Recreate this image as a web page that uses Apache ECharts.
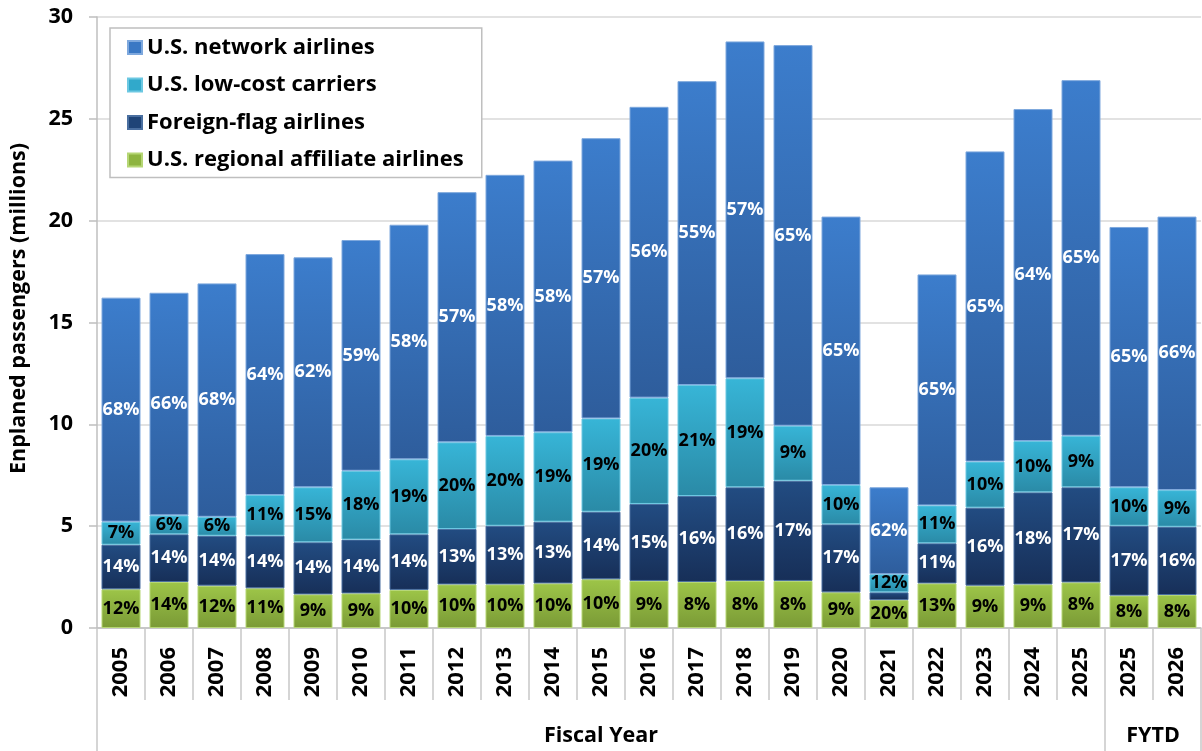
<!DOCTYPE html>
<html><head><meta charset="utf-8">
<script src="https://cdn.jsdelivr.net/npm/echarts@6/dist/echarts.min.js"></script>
<style>html,body{margin:0;padding:0;background:#fff}#c{width:1202px;height:751px}</style>
</head><body><div id="c"></div>
<script>
const categories = ['2005','2006','2007','2008','2009','2010','2011','2012','2013','2014','2015','2016','2017','2018','2019','2020','2021','2022','2023','2024','2025','2025','2026'];
const groupLabels = ['Fiscal Year', 'FYTD'];
const yTicks = [0, 5, 10, 15, 20, 25, 30];

// values in millions of enplaned passengers
const regional = [1.90,2.26,2.08,1.95,1.65,1.70,1.87,2.14,2.14,2.19,2.39,2.31,2.26,2.31,2.31,1.75,1.37,2.19,2.08,2.14,2.24,1.59,1.62];
const foreign  = [2.19,2.34,2.45,2.58,2.56,2.64,2.73,2.72,2.88,3.03,3.32,3.78,4.22,4.60,4.92,3.34,0.38,1.97,3.83,4.52,4.67,3.43,3.35];
const lowCost  = [1.13,0.93,0.93,2.00,2.70,3.38,3.68,4.26,4.41,4.39,4.58,5.22,5.45,5.35,2.70,1.93,0.89,1.86,2.26,2.52,2.53,1.89,1.80];
const network  = [11.00,10.93,11.46,11.83,11.29,11.33,11.52,12.28,12.82,13.34,13.76,14.28,14.92,16.54,18.69,13.18,4.27,11.34,15.23,16.30,17.46,12.78,13.43];

// share labels (%)
const regionalPct = [12,14,12,11,9,9,10,10,10,10,10,9,8,8,8,9,20,13,9,9,8,8,8];
const foreignPct  = [14,14,14,14,14,14,14,13,13,13,14,15,16,16,17,17,null,11,16,18,17,17,16];
const lowCostPct  = [7,6,6,11,15,18,19,20,20,19,19,20,21,19,9,10,12,11,10,10,9,10,9];
const networkPct  = [68,66,68,64,62,59,58,57,58,58,57,56,55,57,65,65,62,65,65,64,65,65,66];

const FONT = 'Open Sans';
const chart = echarts.init(document.getElementById('c'), null, {renderer: 'canvas'});

function grad(top, bottom) {
  return new echarts.graphic.LinearGradient(0, 0, 0, 1, [
    {offset: 0, color: top}, {offset: 1, color: bottom}
  ]);
}
function mk(name, values, pcts, top, bottom, border, labelColor) {
  return {
    name: name, type: 'bar', stack: 'total', data: values,
    xAxisIndex: 0, yAxisIndex: 0, barWidth: 39,
    itemStyle: {color: grad(top, bottom), borderColor: border, borderWidth: 1},
    label: {
      show: true, position: 'inside', color: labelColor,
      fontFamily: FONT, fontWeight: 'bold', fontSize: 18,
      formatter: p => pcts[p.dataIndex] == null ? '' : pcts[p.dataIndex] + '%'
    },
    emphasis: {disabled: true}
  };
}

const option = {
  animation: false,
  backgroundColor: '#fff',
  textStyle: {fontFamily: FONT},
  grid: {left: 97, right: 1, top: 17, bottom: 123, containLabel: false},
  legend: {
    orient: 'vertical', left: 110, top: 28,
    padding: [8, 18, 6, 17], itemGap: 14.5,
    itemWidth: 14, itemHeight: 13, icon: 'rect',
    backgroundColor: '#fff', borderColor: '#BFBFBF', borderWidth: 1.5,
    textStyle: {fontFamily: FONT, fontWeight: 'bold', fontSize: 22, color: '#000', lineHeight: 23},
    data: [
      {name: 'U.S. network airlines', itemStyle: {color: '#3A78C4'}},
      {name: 'U.S. low-cost carriers', itemStyle: {color: '#31A9CB'}},
      {name: 'Foreign-flag airlines', itemStyle: {color: '#1F4477'}},
      {name: 'U.S. regional affiliate airlines', itemStyle: {color: '#8DB43F'}}
    ]
  },
  xAxis: [
    {
      type: 'category', data: categories, gridIndex: 0, position: 'bottom',
      axisLine: {show: true, lineStyle: {color: '#BFBFBF', width: 1.5}},
      axisTick: {show: true, length: 72, lineStyle: {color: '#C8C8C8', width: 1.5}},
      axisLabel: {interval: 0, rotate: 90, margin: 19, color: '#000', fontFamily: FONT, fontWeight: 'bold', fontSize: 22},
      splitLine: {show: false}
    },
    {
      type: 'value', gridIndex: 0, position: 'bottom', min: 0, max: categories.length,
      axisLine: {show: false},
      axisTick: {show: true, length: 123, customValues: [0, 21, categories.length], lineStyle: {color: '#C8C8C8', width: 1.5}},
      axisLabel: {show: true, customValues: [10.5, 22], margin: 97, color: '#000', fontFamily: FONT, fontWeight: 'bold', fontSize: 21.5,
        formatter: v => v < 21 ? groupLabels[0] : groupLabels[1]},
      splitLine: {show: false}
    }
  ],
  yAxis: {
    type: 'value', min: 0, max: 30, interval: 5,
    name: 'Enplaned passengers (millions)', nameLocation: 'middle', nameGap: 67,
    nameTextStyle: {fontFamily: FONT, fontWeight: 'bold', fontSize: 21.5, color: '#000', padding: [0, 0, 0, 28]},
    axisLine: {show: true, lineStyle: {color: '#BFBFBF', width: 1.5}},
    axisTick: {show: true, length: 8, lineStyle: {color: '#BFBFBF', width: 1.5}},
    axisLabel: {margin: 24, color: '#000', fontFamily: FONT, fontWeight: 'bold', fontSize: 21.5,
      customValues: yTicks},
    splitLine: {show: true, lineStyle: {color: '#D9D9D9', width: 1.5}}
  },
  series: [
    mk('U.S. regional affiliate airlines', regional, regionalPct, '#9DC548', '#7A9A36', '#B5D675', '#000'),
    mk('Foreign-flag airlines', foreign, foreignPct, '#224C82', '#172F58', '#4A6FA0', '#fff'),
    mk('U.S. low-cost carriers', lowCost, lowCostPct, '#37B5D7', '#2A8AA6', '#6CC8E2', '#000'),
    mk('U.S. network airlines', network, networkPct, '#3C7DCC', '#2E5D9C', '#7EA8DD', '#fff')
  ]
};
chart.setOption(option);
</script>
</body></html>
